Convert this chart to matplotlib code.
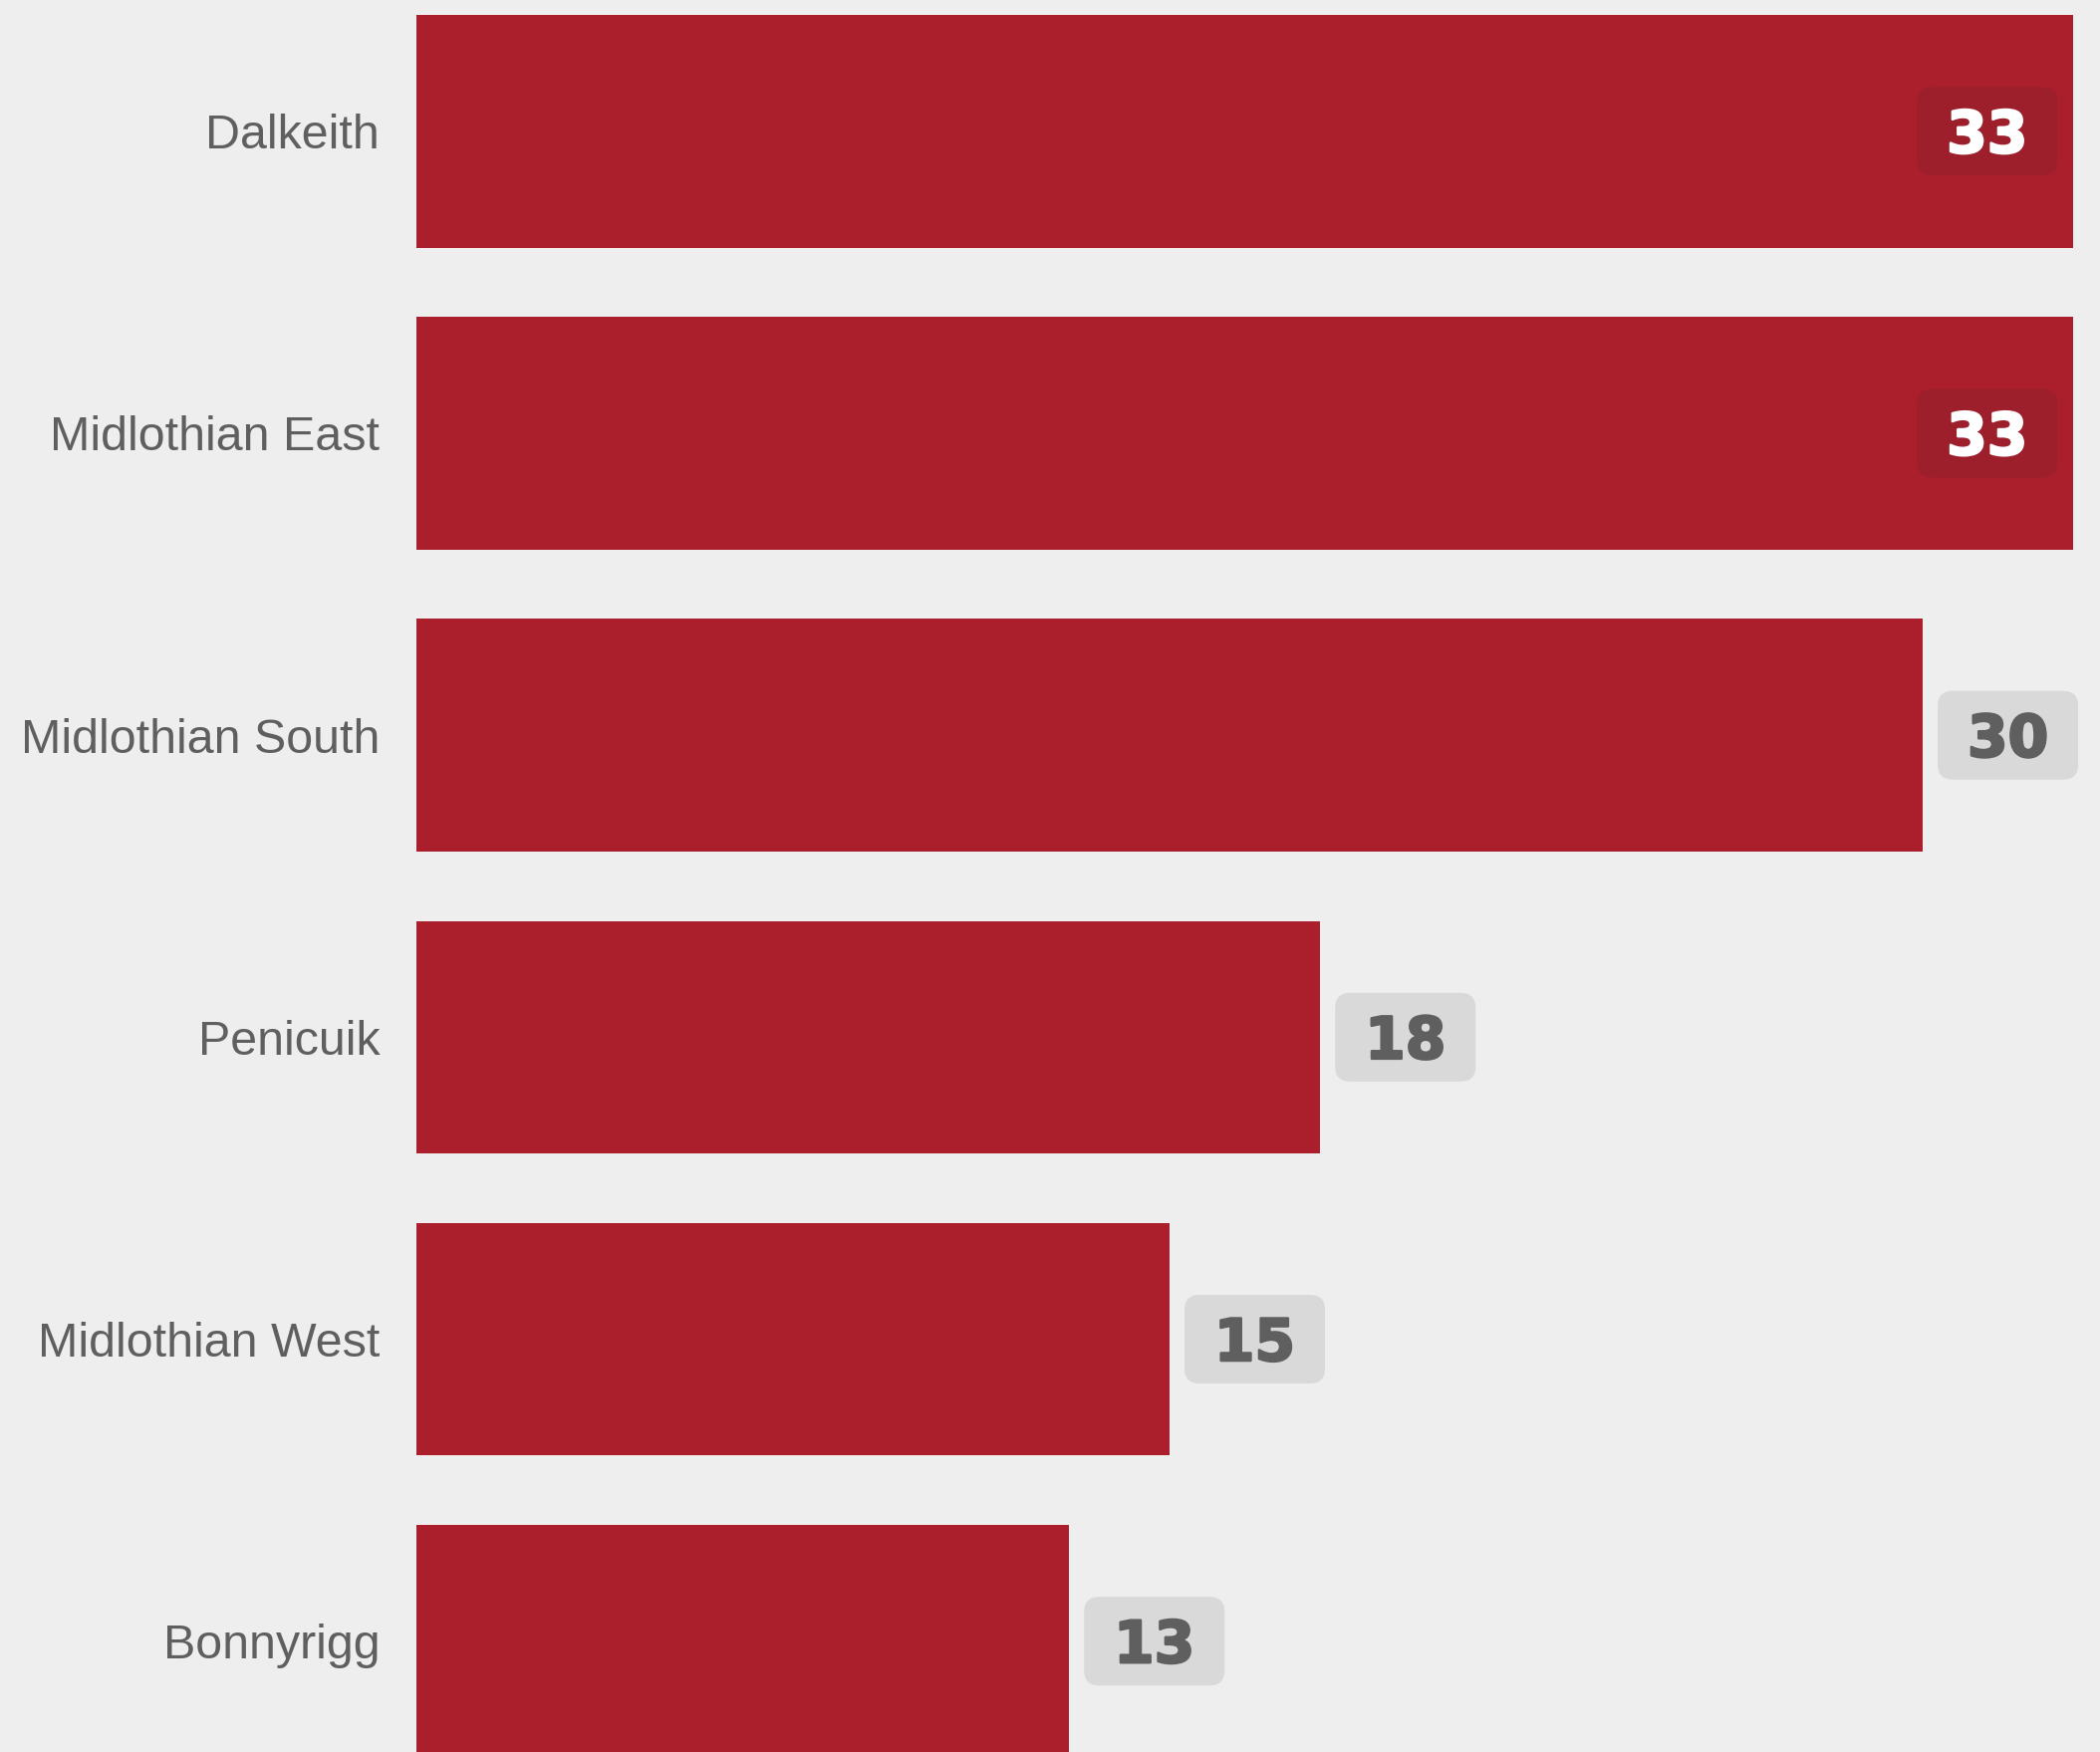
import matplotlib.pyplot as plt
import matplotlib.patheffects as pe
from matplotlib.patches import FancyBboxPatch
from matplotlib.transforms import ScaledTranslation

# data
areas = ['Dalkeith', 'Midlothian East', 'Midlothian South', 'Penicuik',
         'Midlothian West', 'Bonnyrigg']
counts = [33, 33, 30, 18, 15, 13]

bar_color = '#ab1f2d'
bg = '#eeeeee'

fig = plt.figure(figsize=(21.08, 17.59), dpi=100, facecolor=bg)
ax = fig.add_axes([418 / 2108, 0, 1 - 418 / 2108, 1], facecolor=bg)

pos = list(range(len(areas)))
ax.barh(pos, counts, height=0.77, color=bar_color)

ax.set_xlim(0, 33.53)
ax.set_ylim(5.367, -0.4347)
ax.set_yticks(pos)
ax.set_yticklabels(areas, fontsize=34.8, color='#5f5f5f', family='Liberation Sans')
ax.tick_params(axis='y', length=0, pad=26.5)
ax.set_xticks([])
for s in ax.spines.values():
    s.set_visible(False)

# value badges (sizes in pixels)
bw, bh = 141, 89
vmax = max(counts)
for i, v in enumerate(counts):
    tr = ScaledTranslation(v, i, ax.transData)
    if v == vmax:
        x0 = -16 - bw
        fc, tc = '#9e1f2c', 'white'
    else:
        x0 = 15
        fc, tc = '#d9d9d9', '#5f5f5f'
    box = FancyBboxPatch((x0 + 15, -bh / 2 + 15), bw - 30, bh - 30,
                         boxstyle='round,pad=15,rounding_size=15',
                         fc=fc, ec='none', transform=tr, clip_on=False)
    fig.patches.append(box)
    box.set_figure(fig)
    fig.text(x0 + bw / 2, -21.5, str(v), transform=tr, ha='center',
             va='baseline', fontsize=42, fontweight='bold',
             family='DejaVu Sans', color=tc,
             path_effects=[pe.withStroke(linewidth=1.8, foreground=tc)])

fig.savefig('out.png', dpi=100, facecolor=bg)
